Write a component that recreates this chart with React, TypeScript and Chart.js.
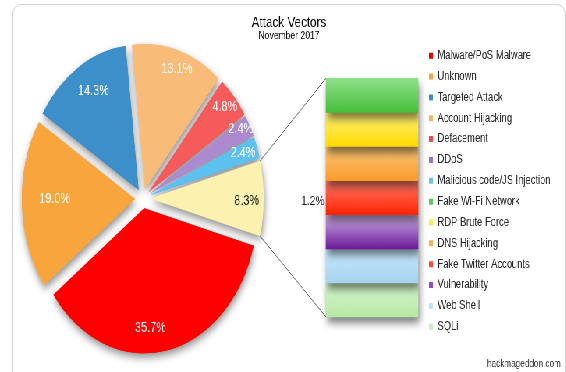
import React, { useEffect, useRef } from 'react';
import { Chart, registerables } from 'chart.js';

Chart.register(...registerables);

const FONT = '"Liberation Sans", Arial, Helvetica, sans-serif';
Chart.defaults.font.family = FONT;

// ---------- data ----------
const TITLE = 'Attack Vectors';
const SUBTITLE = 'November 2017';
const CREDIT = 'hackmageddon.com';

const PIE_LABELS = [
  'Malware/PoS Malware',
  'Unknown',
  'Targeted Attack',
  'Account Hijacking',
  'Defacement',
  'DDoS',
  'Malicious code/JS Injection',
  'Other',
];
const PIE_VALUES = [35.7, 19.0, 14.3, 13.1, 4.8, 2.4, 2.4, 8.3];
const OTHER_INDEX = 7;

const BAR_LABELS = [
  'Fake Wi-Fi Network',
  'RDP Brute Force',
  'DNS Hijacking',
  'Fake Twitter Accounts',
  'Vulnerability',
  'Web Shell',
  'SQLi',
];
const BAR_VALUES = [1.2, 1.2, 1.2, 1.2, 1.2, 1.2, 1.2];
const BAR_CATEGORY = ['Other'];

// ---------- styles ----------
const PIE_COLORS = ['#ff0000', '#f9a53e', '#3d8fc9', '#f9bb78', '#f65b5b', '#ad8acf', '#5dc1ef', '#fdf1b0'];
const PIE_LABEL_COLORS = ['#ffffff', '#ffffff', '#ffffff', '#ffffff', '#ffffff', '#ffffff', '#ffffff', '#1a1a1a'];
const PIE_SWATCHES = ['#e60000', '#f9a53e', '#3d8fc9', '#f9b26c', '#f24a4a', '#9d6cc6', '#6cc3ec'];
const BAR_TOP = ['#8fe08a', '#fff27a', '#fcc878', '#ff7a6a', '#d0b0e6', '#c6e8fa', '#d4f5cc'];
const BAR_BOTTOM = ['#45bf3a', '#ffd900', '#f99a2a', '#ff2200', '#6a1a9a', '#a6d3f0', '#b6e8a6'];
const BAR_SWATCHES = ['#5cc85c', '#ffe84a', '#fbb24e', '#ff4a3a', '#9548c0', '#bfe2f6', '#c8efbf'];
const LABEL_RADIUS = [0.83, 0.71, 0.79, 0.87, 0.89, 0.92, 0.87, 0.85];
const LABEL_TURN = [7, 2, 2, 2, 0, -1, 0, 1];
const LEGEND_TEXT = '#262626';

const SQUASH = 0.78;
const EXPLODE = 10;
const H = 372;
const PIE_LEFT = -175;
const PIE_W = 900;
const LEGEND_LEFT = 716.15; // in pie-canvas pixels
const LEGEND_PAD = 8.85;
const LEGEND_FONT = 12;
const LEGEND_BOX_W = 5;
const BAR_LEFT = 205;
const BAR_W = 521;
const CREDIT_RIGHT = 719;
const CREDIT_Y = 364;

const PIE_TOTAL = PIE_VALUES.reduce((a, b) => a + b, 0);
const BAR_TOTAL = BAR_VALUES.reduce((a, b) => a + b, 0);

const explodedPie = {
  id: 'explodedPie',
  beforeDatasetDraw(chart: any, args: any) {
    const ctx = chart.ctx;
    const arcs = args.meta.data;
    const paint = (shadow: boolean) => {
      ctx.save();
      if (shadow) {
        ctx.shadowColor = 'rgba(0,0,0,0.45)';
        ctx.shadowBlur = 8;
        ctx.shadowOffsetX = 1;
        ctx.shadowOffsetY = 4;
      }
      arcs.forEach((arc: any) => {
        const mid = (arc.startAngle + arc.endAngle) / 2;
        ctx.save();
        ctx.translate(Math.cos(mid) * EXPLODE, Math.sin(mid) * EXPLODE);
        arc.draw(ctx);
        ctx.restore();
      });
      ctx.restore();
    };
    paint(true);
    paint(false);
    return false;
  },
  afterDatasetsDraw(chart: any) {
    const ctx = chart.ctx;
    const arcs = chart.getDatasetMeta(0).data;
    ctx.save();
    ctx.font = `14px ${FONT}`;
    ctx.textAlign = 'center';
    ctx.textBaseline = 'middle';
    arcs.forEach((arc: any, i: number) => {
      const mid = (arc.startAngle + arc.endAngle) / 2;
      const a = mid + (LABEL_TURN[i] * Math.PI) / 180;
      const r = arc.outerRadius * LABEL_RADIUS[i];
      const x = arc.x + Math.cos(mid) * EXPLODE + Math.cos(a) * r;
      const y = arc.y + Math.sin(mid) * EXPLODE + Math.sin(a) * r;
      ctx.fillStyle = PIE_LABEL_COLORS[i];
      ctx.fillText(`${PIE_VALUES[i].toFixed(1)}%`, x, y);
    });
    ctx.restore();
  },
};

const makeBarPlugin = (pie: any) => ({
  id: 'pieOfBar',
  beforeDatasetsDraw(chart: any) {
    const ctx = chart.ctx;
    ctx.save();
    ctx.shadowColor = 'rgba(0,0,0,0.5)';
    ctx.shadowBlur = 8;
    ctx.shadowOffsetX = 2;
    ctx.shadowOffsetY = 6;
  },
  afterDatasetsDraw(chart: any) {
    chart.ctx.restore();
  },
  afterDraw(chart: any) {
    const ctx = chart.ctx;
    const arc = pie.getDatasetMeta(0).data[OTHER_INDEX];
    const dx = PIE_LEFT - BAR_LEFT;
    const mid = (arc.startAngle + arc.endAngle) / 2;
    const cx = arc.x + Math.cos(mid) * EXPLODE + dx;
    const cy = arc.y + Math.sin(mid) * EXPLODE;
    const first = chart.getDatasetMeta(0).data[0];
    const last = chart.getDatasetMeta(BAR_VALUES.length - 1).data[0];
    const left = first.x - first.width / 2;
    const top = Math.min(first.y, first.base);
    const bottom = Math.max(last.y, last.base);
    const R = arc.outerRadius;
    ctx.save();
    ctx.strokeStyle = '#555555';
    ctx.lineWidth = 1;
    ctx.beginPath();
    ctx.moveTo(cx + Math.cos(arc.startAngle) * R, cy + Math.sin(arc.startAngle) * R);
    ctx.lineTo(left, top);
    ctx.moveTo(cx + Math.cos(arc.endAngle) * R, cy + Math.sin(arc.endAngle) * R);
    ctx.lineTo(left, bottom);
    ctx.stroke();
    ctx.font = `10.5px ${FONT}`;
    ctx.fillStyle = '#333333';
    ctx.textAlign = 'right';
    ctx.textBaseline = 'middle';
    ctx.fillText(CREDIT, CREDIT_RIGHT - BAR_LEFT, CREDIT_Y);
    ctx.restore();
  },
});

const legendTexts = () => PIE_LABELS.filter((_, i) => i !== OTHER_INDEX).concat(BAR_LABELS);

const legendItems = () => {
  const items: any[] = [];
  PIE_LABELS.forEach((label, i) => {
    if (i === OTHER_INDEX) return;
    items.push({ text: label, fillStyle: PIE_SWATCHES[i], strokeStyle: PIE_SWATCHES[i], lineWidth: 0, hidden: false, index: i, datasetIndex: 0, fontColor: LEGEND_TEXT });
  });
  BAR_LABELS.forEach((label, i) => {
    items.push({ text: label, fillStyle: BAR_SWATCHES[i], strokeStyle: BAR_SWATCHES[i], lineWidth: 0, hidden: false, index: PIE_LABELS.length + i, datasetIndex: 0, fontColor: LEGEND_TEXT });
  });
  return items;
};

export default function App() {
  const pieRef = useRef<HTMLCanvasElement>(null);
  const barRef = useRef<HTMLCanvasElement>(null);

  useEffect(() => {
    // width the legend box will claim, so its left edge lands where wanted
    const m = document.createElement('canvas').getContext('2d') as CanvasRenderingContext2D;
    m.font = `${LEGEND_FONT}px ${FONT}`;
    const maxText = Math.max(...legendTexts().map((t) => m.measureText(t).width));
    const legendW = LEGEND_PAD + LEGEND_BOX_W + LEGEND_FONT / 2 + maxText + 10;
    const padRight = Math.max(0, PIE_W - LEGEND_LEFT - legendW);

    const rotation = 90 + (PIE_VALUES[OTHER_INDEX] / PIE_TOTAL) * 180;
    const pie = new Chart(pieRef.current as HTMLCanvasElement, {
      type: 'pie',
      data: {
        labels: PIE_LABELS,
        datasets: [
          {
            data: PIE_VALUES,
            backgroundColor: PIE_COLORS,
            borderWidth: 0,
            clip: false,
          } as any,
        ],
      },
      options: {
        animation: false,
        responsive: false,
        rotation,
        radius: 145,
        layout: { padding: { left: 0, right: padRight, top: 40.85, bottom: 15.85 } },
        plugins: {
          legend: {
            position: 'right',
            align: 'start',
            labels: {
              boxWidth: LEGEND_BOX_W,
              boxHeight: 6,
              padding: LEGEND_PAD,
              color: LEGEND_TEXT,
              font: { size: LEGEND_FONT, family: FONT },
              generateLabels: legendItems,
            },
            onClick: () => {},
          },
          tooltip: { enabled: false },
        },
      } as any,
      plugins: [explodedPie],
    });

    const bar = new Chart(barRef.current as HTMLCanvasElement, {
      type: 'bar',
      data: {
        labels: BAR_CATEGORY,
        datasets: BAR_LABELS.map((label, i) => ({
          label,
          data: [BAR_VALUES[i]],
          stack: 'other',
          borderWidth: 0,
          barPercentage: 1,
          categoryPercentage: 1,
          clip: false,
          backgroundColor: (c: any) => {
            const y = c.chart.scales && c.chart.scales.y;
            if (!y || c.type !== 'data') return BAR_SWATCHES[i];
            const start = BAR_VALUES.slice(0, i).reduce((a, b) => a + b, 0);
            const y0 = y.getPixelForValue(start);
            const y1 = y.getPixelForValue(start + BAR_VALUES[i]);
            if (!isFinite(y0) || !isFinite(y1) || y0 === y1) return BAR_SWATCHES[i];
            const g = c.chart.ctx.createLinearGradient(0, y0, 0, y1);
            g.addColorStop(0, BAR_TOP[i]);
            g.addColorStop(1, BAR_BOTTOM[i]);
            return g;
          },
        })) as any,
      },
      options: {
        animation: false,
        responsive: false,
        layout: { padding: { left: 0, right: 190, top: 0, bottom: 55 } },
        scales: {
          x: { display: false, stacked: true },
          y: {
            display: true,
            stacked: true,
            reverse: true,
            min: 0,
            max: BAR_TOTAL,
            grid: { display: false, drawTicks: false },
            border: { display: false },
            ticks: {
              padding: 2,
              labelOffset: 4,
              color: '#1e1e1e',
              font: { size: 13, family: FONT },
              callback: () => `${BAR_VALUES[0].toFixed(1)}%`,
            },
            afterBuildTicks: (s: any) => {
              s.ticks = [{ value: BAR_TOTAL / 2 }];
            },
            afterFit: (s: any) => {
              s.width = 213;
            },
          },
        },
        plugins: {
          legend: { display: false },
          tooltip: { enabled: false },
          title: {
            display: true,
            text: TITLE,
            color: '#000000',
            font: { size: 15, lineHeight: 0.9, weight: 'normal', family: FONT },
            padding: { top: 16.45, bottom: 0 },
          },
          subtitle: {
            display: true,
            text: SUBTITLE,
            color: '#000000',
            font: { size: 11, lineHeight: 1, family: FONT },
            padding: { top: 0.25, bottom: 37.1 },
          },
        },
      } as any,
      plugins: [makeBarPlugin(pie)],
    });

    return () => {
      bar.destroy();
      pie.destroy();
    };
  }, []);

  return (
    <div style={{ position: 'fixed', left: 0, top: 0, width: 566, height: H, overflow: 'hidden', background: '#ffffff' }}>
      <div
        style={{
          position: 'absolute',
          left: 12,
          top: 4,
          width: 554,
          height: 420,
          border: '1px solid #d2d2d2',
          borderRadius: 10,
          boxSizing: 'border-box',
        }}
      />
      <div
        style={{
          position: 'absolute',
          left: 0,
          top: 0,
          width: 726,
          height: H,
          transform: `scaleX(${SQUASH})`,
          transformOrigin: '0 0',
        }}
      >
        <canvas ref={pieRef} width={PIE_W} height={H} style={{ position: 'absolute', left: PIE_LEFT, top: 0 }} />
        <canvas ref={barRef} width={BAR_W} height={H} style={{ position: 'absolute', left: BAR_LEFT, top: 0 }} />
      </div>
    </div>
  );
}
